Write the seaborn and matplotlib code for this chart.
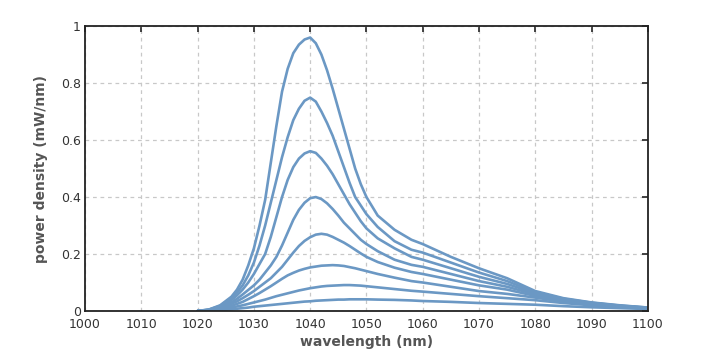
import numpy as np
import pandas as pd
import seaborn as sns
import matplotlib
matplotlib.use("Agg")
import matplotlib.pyplot as plt

# wavelength grid (nm): coarse on the wings, 1 nm steps round the peaks
wavelength = [1020, 1022, 1024,
              1026, 1027, 1028, 1029, 1030, 1031, 1032, 1033, 1034, 1035, 1036, 1037,
              1038, 1039, 1040, 1041, 1042, 1043, 1044, 1045, 1046, 1047, 1048, 1049, 1050,
              1052, 1055, 1058, 1060, 1065, 1070, 1075, 1080, 1085, 1090, 1095, 1100]

# power density (mW/nm), one list per curve, highest first
curve_1 = [0, 0.005, 0.02,
           0.05, 0.075, 0.11, 0.16, 0.22, 0.30, 0.39, 0.52, 0.65, 0.77, 0.85, 0.905,
           0.935, 0.953, 0.96, 0.94, 0.90, 0.845, 0.78, 0.71, 0.64, 0.57, 0.50, 0.445, 0.40,
           0.335, 0.285, 0.25, 0.235, 0.19, 0.15, 0.115, 0.07, 0.045, 0.03, 0.02, 0.012]
curve_2 = [0, 0.005, 0.018,
           0.045, 0.065, 0.09, 0.125, 0.17, 0.23, 0.30, 0.38, 0.46, 0.54, 0.61, 0.67,
           0.71, 0.738, 0.749, 0.735, 0.70, 0.66, 0.615, 0.56, 0.505, 0.45, 0.40, 0.37, 0.34,
           0.295, 0.245, 0.215, 0.205, 0.17, 0.135, 0.105, 0.066, 0.043, 0.029, 0.019, 0.012]
curve_3 = [0, 0.004, 0.015,
           0.038, 0.055, 0.075, 0.10, 0.13, 0.165, 0.20, 0.26, 0.33, 0.40, 0.46, 0.505,
           0.535, 0.553, 0.561, 0.555, 0.535, 0.51, 0.48, 0.445, 0.41, 0.375, 0.345, 0.315, 0.29,
           0.255, 0.22, 0.19, 0.18, 0.15, 0.12, 0.095, 0.062, 0.041, 0.028, 0.018, 0.011]
curve_4 = [0, 0.003, 0.012,
           0.03, 0.043, 0.058, 0.074, 0.09, 0.11, 0.135, 0.16, 0.19, 0.23, 0.275, 0.32,
           0.355, 0.38, 0.396, 0.40, 0.393, 0.378, 0.358, 0.335, 0.31, 0.29, 0.27, 0.25, 0.235,
           0.21, 0.18, 0.162, 0.155, 0.13, 0.105, 0.085, 0.058, 0.039, 0.027, 0.017, 0.011]
curve_5 = [0, 0.003, 0.01,
           0.025, 0.034, 0.045, 0.057, 0.07, 0.085, 0.10, 0.115, 0.135, 0.155, 0.18, 0.205,
           0.228, 0.246, 0.259, 0.268, 0.271, 0.268, 0.26, 0.25, 0.24, 0.228, 0.215, 0.202, 0.19,
           0.172, 0.152, 0.137, 0.13, 0.11, 0.09, 0.075, 0.053, 0.036, 0.025, 0.016, 0.01]
curve_6 = [0, 0.002, 0.008,
           0.018, 0.025, 0.032, 0.042, 0.052, 0.063, 0.075, 0.087, 0.10, 0.113, 0.125, 0.134,
           0.142, 0.148, 0.153, 0.156, 0.159, 0.16, 0.161, 0.16, 0.158, 0.154, 0.15, 0.145, 0.14,
           0.13, 0.117, 0.105, 0.10, 0.085, 0.07, 0.06, 0.047, 0.033, 0.023, 0.015, 0.01]
curve_7 = [0, 0.002, 0.006,
           0.012, 0.016, 0.02, 0.025, 0.03, 0.035, 0.04, 0.046, 0.052, 0.057, 0.062, 0.067,
           0.072, 0.076, 0.08, 0.083, 0.086, 0.088, 0.089, 0.09, 0.091, 0.091, 0.09, 0.089, 0.087,
           0.083, 0.077, 0.071, 0.068, 0.06, 0.052, 0.045, 0.038, 0.028, 0.02, 0.014, 0.009]
curve_8 = [0, 0.001, 0.003,
           0.006, 0.008, 0.01, 0.012, 0.015, 0.017, 0.019, 0.021, 0.023, 0.025, 0.027, 0.029,
           0.031, 0.033, 0.034, 0.036, 0.037, 0.038, 0.039, 0.04, 0.04, 0.041, 0.041, 0.041, 0.041,
           0.04, 0.039, 0.037, 0.035, 0.032, 0.028, 0.025, 0.022, 0.017, 0.013, 0.01, 0.007]

curves = [curve_1, curve_2, curve_3, curve_4, curve_5, curve_6, curve_7, curve_8]

x_ticks = [1000, 1010, 1020, 1030, 1040, 1050, 1060, 1070, 1080, 1090, 1100]
y_ticks = [0, 0.2, 0.4, 0.6, 0.8, 1]
y_tick_labels = ["0", "0.2", "0.4", "0.6", "0.8", "1"]

# long-form table for seaborn
rows = []
for i, c in enumerate(curves):
    for w, p in zip(wavelength, c):
        rows.append({"wavelength": w, "power": p, "curve": f"c{i + 1}"})
df = pd.DataFrame(rows)

sns.set_style("white")
plt.rcParams["font.family"] = ["DejaVu Sans"]

fig = plt.figure(figsize=(7.15, 3.53), dpi=100)
ax = fig.add_axes([0.119, 0.119, 0.787, 0.807])

line_color = "#6b98c4"
sns.lineplot(data=df, x="wavelength", y="power", hue="curve",
             palette=[line_color] * len(curves), linewidth=1.9,
             legend=False, ax=ax, sort=True)

ax.set_xlim(1000, 1100)
ax.set_ylim(0, 1)
ax.set_xticks(x_ticks)
ax.set_xticklabels([str(t) for t in x_ticks])
ax.set_yticks(y_ticks)
ax.set_yticklabels(y_tick_labels)

ax.grid(True, color="#c8c8c8", linestyle=(0, (3, 3)), linewidth=0.9)
ax.set_axisbelow(True)
for s in ax.spines.values():
    s.set_visible(True)
    s.set_color("#222222")
    s.set_linewidth(1.3)

ax.tick_params(direction="in", length=4, width=1.3, color="#333333",
               top=True, right=True, labelsize=9, labelcolor="#333333")
ax.tick_params(axis="x", pad=5)
ax.tick_params(axis="y", pad=3)

ax.set_xlabel("wavelength (nm)", fontsize=10, fontweight="bold", color="#555555", labelpad=3)
ax.set_ylabel("power density (mW/nm)", fontsize=10, fontweight="bold", color="#555555", labelpad=9)

fig.savefig("out.png", dpi=100, facecolor="white")
